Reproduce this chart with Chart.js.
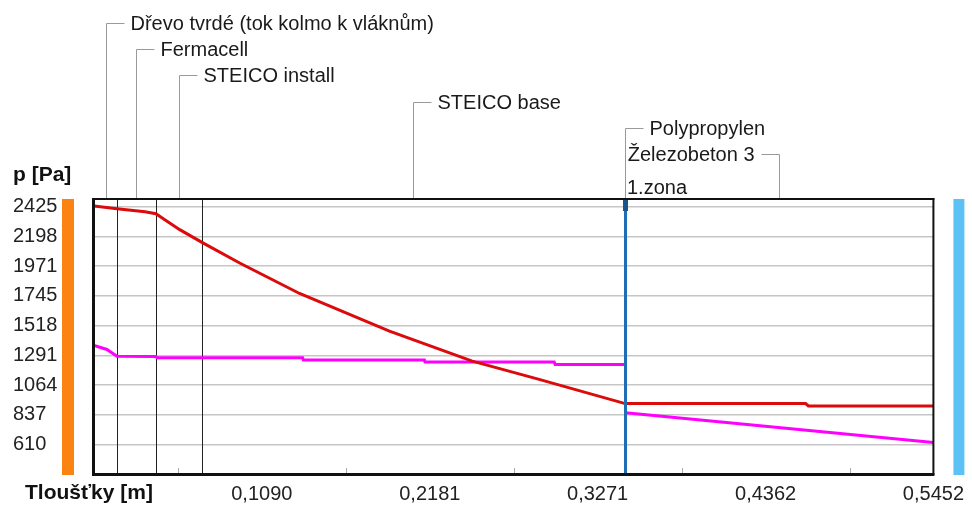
<!DOCTYPE html>
<html>
<head>
<meta charset="utf-8">
<script src="https://cdn.jsdelivr.net/npm/chart.js@4.4.0/dist/chart.umd.min.js"></script>
<style>
  html, body { margin: 0; padding: 0; background: #fff; }
  #wrap { width: 972px; height: 508px; }
</style>
</head>
<body>
<div id="wrap"><canvas id="chart" width="972" height="508"></canvas></div>
<script>
// Layers of the wall (name, thickness in m)
const layerNames = ['Dřevo tvrdé (tok kolmo k vláknům)', 'Fermacell', 'STEICO install', 'STEICO base', 'Polypropylen', 'Železobeton 3'];
const layerThick = [0.015, 0.025, 0.030, 0.275, 0.0002, 0.200];

// Zone markers
const zoneX = [0.345];
const zoneNames = ['1.zona'];

// Axis ticks
const xTicks = [0.1090, 0.2181, 0.3271, 0.4362, 0.5452];
const yTicks = [610, 837, 1064, 1291, 1518, 1745, 1971, 2198, 2425];
const xMax = 0.5452;
const yMin = 386;
const yMax = 2484;

// Partial water vapour pressure p [Pa]
const pX = [0, 0.0149, 0.0331, 0.0402, 0.0460, 0.0557, 0.0707, 0.0946, 0.1335, 0.1919, 0.2457, 0.2891, 0.345, 0.4622, 0.4640, 0.5452];
const pVal = [2430, 2410, 2387, 2372, 2326, 2250, 2149, 1996, 1763, 1476, 1247, 1108, 923, 923, 905, 905];

// Saturated pressure p_sat [Pa]
const psX = [0, 0.0084, 0.0149, 0.0402, 0.0410, 0.1355, 0.1360, 0.2146, 0.2150, 0.2989, 0.2995, 0.345, 0.3451, 0.3452, 0.5452];
const psVal = [1367, 1336, 1285, 1283, 1273, 1273, 1255, 1255, 1240, 1240, 1222, 1222, null, 854, 626];

const FONT = 'Liberation Sans, Arial, sans-serif';

// layer boundaries from thicknesses
const bounds = [];
let acc = 0;
layerThick.forEach(t => { acc += t; bounds.push(acc); });

const decoPlugin = {
  id: 'deco',
  beforeDatasetsDraw(chart) {
    const { ctx, chartArea, scales } = chart;
    const x = scales.x;
    ctx.save();
    // small ticks on bottom axis (between labels)
    ctx.strokeStyle = '#aaa';
    ctx.lineWidth = 1;
    const minor = [0];
    xTicks.forEach((t, i) => { minor.push(((i ? xTicks[i - 1] : 0) + t) / 2); });
    minor.forEach(v => {
      const px = Math.round(x.getPixelForValue(v)) + 0.5;
      ctx.beginPath();
      ctx.moveTo(px, chartArea.bottom);
      ctx.lineTo(px, chartArea.bottom - 6);
      ctx.stroke();
    });
    // layer boundaries
    ctx.strokeStyle = '#222';
    bounds.slice(0, 3).forEach(b => {
      const px = Math.round(x.getPixelForValue(b)) + 0.5;
      ctx.beginPath();
      ctx.moveTo(px, chartArea.top);
      ctx.lineTo(px, chartArea.bottom);
      ctx.stroke();
    });
    ctx.restore();
  },
  afterDatasetsDraw(chart) {
    const { ctx, chartArea, scales } = chart;
    const x = scales.x;
    const top = chartArea.top, bottom = chartArea.bottom;
    ctx.save();

    // zone line
    zoneX.forEach((z, i) => {
      const px = Math.round(x.getPixelForValue(z));
      ctx.fillStyle = '#1f6db3';
      ctx.fillRect(px - 1, top, 3, bottom - top);
      ctx.fillStyle = '#17558f';
      ctx.fillRect(px - 2, top, 5, 12);
      ctx.fillStyle = '#1a1a1a';
      ctx.font = '20px ' + FONT;
      ctx.textAlign = 'left';
      ctx.textBaseline = 'middle';
      ctx.fillText(zoneNames[i], px + 2, 188);
    });

    // plot frame
    ctx.fillStyle = '#111';
    ctx.fillRect(chartArea.left - 2, top - 1, 3, bottom - top + 2);
    ctx.fillRect(chartArea.left - 2, bottom - 1, chartArea.right - chartArea.left + 3, 3);
    ctx.fillRect(chartArea.left - 2, top - 1, chartArea.right - chartArea.left + 3, 2);
    ctx.fillRect(chartArea.right - 1, top - 1, 2, bottom - top + 2);

    // side bars
    ctx.fillStyle = '#fb8311';
    ctx.fillRect(chartArea.left - 32, top, 12, bottom - top + 1);
    ctx.fillStyle = '#5cc2f6';
    ctx.fillRect(chartArea.right + 20, top, 11, bottom - top + 1);

    // layer labels with leaders
    ctx.font = '20px ' + FONT;
    ctx.textBaseline = 'middle';
    let start = 0;
    layerNames.forEach((name, i) => {
      const mid = start + layerThick[i] / 2;
      start += layerThick[i];
      const px = Math.round(x.getPixelForValue(mid)) + 0.5;
      const ly = Math.round(23 + 26.2 * i) + 0.5;
      const flip = i === layerNames.length - 1;
      ctx.strokeStyle = '#9a9a9a';
      ctx.lineWidth = 1;
      ctx.beginPath();
      ctx.moveTo(px, top - 1);
      ctx.lineTo(px, ly);
      ctx.lineTo(flip ? px - 18 : px + 18, ly);
      ctx.stroke();
      ctx.fillStyle = '#1a1a1a';
      ctx.textAlign = flip ? 'right' : 'left';
      ctx.fillText(name, flip ? px - 25 : px + 24, ly + 1);
    });

    // axis titles
    ctx.font = 'bold 21px ' + FONT;
    ctx.textAlign = 'left';
    ctx.fillStyle = '#111';
    ctx.fillText('p [Pa]', 13, 175);
    ctx.fillText('Tloušťky [m]', 25, 493);
    ctx.restore();
  }
};

new Chart(document.getElementById('chart'), {
  type: 'line',
  data: {
    datasets: [
      {
        label: 'p',
        data: pX.map((v, i) => ({ x: v, y: pVal[i] })),
        borderColor: '#dc0a0a',
        borderWidth: 3,
        pointRadius: 0,
        tension: 0,
        spanGaps: false
      },
      {
        label: 'p,sat',
        data: psX.map((v, i) => ({ x: v, y: psVal[i] })),
        borderColor: '#ff00ff',
        borderWidth: 3,
        pointRadius: 0,
        tension: 0,
        spanGaps: false
      }
    ]
  },
  options: {
    responsive: false,
    devicePixelRatio: 1,
    animation: false,
    layout: { padding: { top: 199, left: 13, right: 37, bottom: 0 } },
    plugins: {
      legend: { display: false },
      tooltip: { enabled: false }
    },
    scales: {
      x: {
        type: 'linear',
        min: 0,
        max: xMax,
        grid: { display: false, drawTicks: false },
        border: { display: false },
        afterBuildTicks: s => { s.ticks = xTicks.map(v => ({ value: v })); },
        afterFit: s => { s.height = 34; },
        ticks: {
          autoSkip: false,
          maxRotation: 0,
          padding: 8,
          color: '#222',
          font: { family: FONT, size: 20 },
          callback: v => v.toFixed(4).replace('.', ',')
        }
      },
      y: {
        type: 'linear',
        min: yMin,
        max: yMax,
        grid: { color: '#c6c6c6', lineWidth: 1.5, drawTicks: false },
        border: { display: false },
        afterBuildTicks: s => { s.ticks = yTicks.map(v => ({ value: v })); },
        afterFit: s => { s.width = 81; },
        ticks: {
          crossAlign: 'far',
          padding: 0,
          color: '#222',
          font: { family: FONT, size: 20 },
          callback: v => String(v)
        }
      }
    }
  },
  plugins: [decoPlugin]
});
</script>
</body>
</html>
